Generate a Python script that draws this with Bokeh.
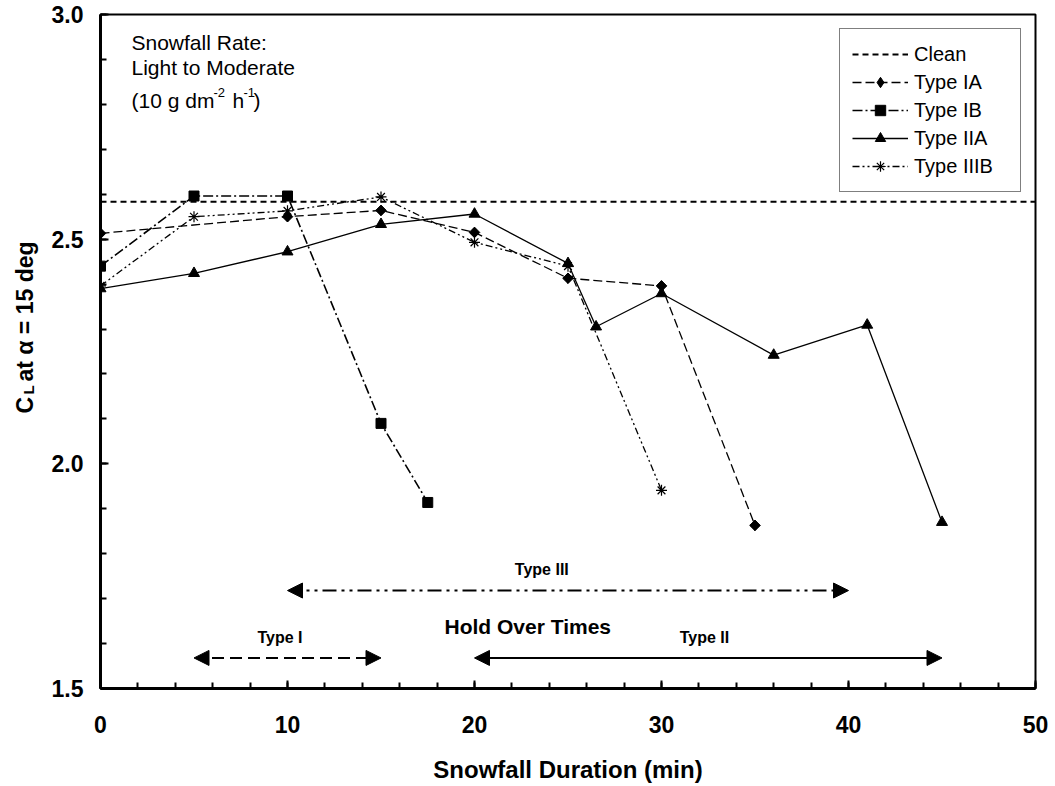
import math
from bokeh.plotting import figure
from bokeh.layouts import row
from bokeh.models import (Range1d, Label, Legend, LegendItem, Arrow, NormalHead,
                          NumeralTickFormatter, FixedTicker)
from bokeh.embed import file_html
from bokeh.resources import INLINE

# ---------------- data ----------------
x_min, x_max = 0, 50
y_min, y_max = 1.5, 3.0
x_ticks = [0, 10, 20, 30, 40, 50]
y_ticks = [1.5, 2.0, 2.5, 3.0]

clean_cl = 2.583

ia_t = [0, 10, 15, 20, 25, 30, 35]
ia_cl = [2.513, 2.550, 2.564, 2.515, 2.413, 2.396, 1.863]

ib_t = [0, 5, 10, 15, 17.5]
ib_cl = [2.440, 2.596, 2.596, 2.090, 1.914]

iia_t = [0, 5, 10, 15, 20, 25, 26.5, 30, 36, 41, 45]
iia_cl = [2.390, 2.424, 2.472, 2.533, 2.556, 2.446, 2.305, 2.379, 2.242, 2.309, 1.870]

iiib_t = [0, 5, 10, 15, 20, 25, 30]
iiib_cl = [2.396, 2.550, 2.563, 2.594, 2.493, 2.440, 1.941]

hot_types = ["Type I", "Type II", "Type III"]
hot_start = [5, 20, 10]
hot_end = [15, 45, 40]
hot_level = [1.568, 1.568, 1.718]

FONT = "Liberation Sans"
LEFT_W = 45
TOP_B, BOT_B = 14, 98

p = figure(width=1055 - LEFT_W, height=786,
           x_range=Range1d(x_min, x_max), y_range=Range1d(y_min, y_max),
           output_backend="svg", toolbar_location=None,
           min_border_left=100 - LEFT_W, min_border_right=20,
           min_border_top=TOP_B, min_border_bottom=BOT_B)

p.xgrid.visible = False
p.ygrid.visible = False
p.outline_line_color = "black"
p.outline_line_width = 2
p.background_fill_color = "white"
p.border_fill_color = "white"

# axes
p.xaxis.ticker = FixedTicker(ticks=x_ticks, minor_ticks=list(range(0, 51, 2)))
p.yaxis.ticker = FixedTicker(ticks=y_ticks, minor_ticks=[round(1.5 + 0.1 * i, 1) for i in range(16)])
p.yaxis.formatter = NumeralTickFormatter(format="0.0")
for ax in (p.xaxis, p.yaxis):
    ax.axis_line_width = 3
    ax.axis_line_color = "black"
    ax.major_tick_line_width = 2
    ax.minor_tick_line_width = 2
    ax.major_tick_line_color = "black"
    ax.minor_tick_line_color = "black"
    ax.major_tick_in = 8
    ax.major_tick_out = 0
    ax.minor_tick_in = 6
    ax.minor_tick_out = 0
    ax.major_label_text_font = FONT
    ax.major_label_text_font_style = "bold"
    ax.major_label_text_font_size = "23px"
    ax.major_label_text_color = "black"
p.xaxis.major_label_standoff = 27
p.yaxis.major_label_standoff = 17
p.xaxis.axis_label = "Snowfall Duration (min)"
p.xaxis.axis_label_text_font = FONT
p.xaxis.axis_label_text_font_style = "bold"
p.xaxis.axis_label_text_font_size = "24px"
p.xaxis.axis_label_text_color = "black"
p.xaxis.axis_label_standoff = 20

# ---------------- series ----------------
r_clean = p.line([x_min, x_max], [clean_cl, clean_cl], line_color="black",
                 line_width=2, line_dash="6 4")

l_ia = p.line(ia_t, ia_cl, line_color="black", line_width=1.3, line_dash="9 4")
# diamond symbol (used for the legend swatch) under a 45deg square for the data points
m_ia = p.scatter(ia_t, ia_cl, marker="diamond", size=10,
                 fill_color="black", line_color="black")
m_ia_sq = p.scatter(ia_t, ia_cl, marker="square", angle=math.pi / 4, size=7.5,
                    fill_color="black", line_color="black")

l_ib = p.line(ib_t, ib_cl, line_color="black", line_width=1.6, line_dash="10 3 2 3")
m_ib = p.scatter(ib_t, ib_cl, marker="square", size=10,
                 fill_color="black", line_color="black")

l_iia = p.line(iia_t, iia_cl, line_color="black", line_width=1.3)
m_iia = p.scatter(iia_t, iia_cl, marker="triangle", size=11,
                  fill_color="black", line_color="black")

l_iiib = p.line(iiib_t, iiib_cl, line_color="black", line_width=1.3, line_dash="7 3 2 3 2 3")
m_iiib = p.scatter(iiib_t, iiib_cl, marker="asterisk", size=11,
                   line_color="black", line_width=1.2)

legend = Legend(items=[
    LegendItem(label="Clean", renderers=[r_clean]),
    LegendItem(label="Type IA", renderers=[l_ia, m_ia]),
    LegendItem(label="Type IB", renderers=[l_ib, m_ib]),
    LegendItem(label="Type IIA", renderers=[l_iia, m_iia]),
    LegendItem(label="Type IIIB", renderers=[l_iiib, m_iiib]),
], location="top_right")
legend.margin = 14
legend.padding = 12
legend.spacing = 2
legend.label_height = 26
legend.glyph_height = 26
legend.glyph_width = 56
legend.label_width = 94
legend.label_standoff = 6
legend.label_text_font = FONT
legend.label_text_font_size = "20px"
legend.label_text_color = "black"
legend.border_line_color = "black"
legend.border_line_width = 1.5
legend.background_fill_color = "white"
legend.background_fill_alpha = 1.0
p.add_layout(legend)

# ---------------- hold over time arrows ----------------
arrow_dash = {"Type I": "12 6", "Type II": "solid", "Type III": "14 5 3 5 3 5"}
for name, s, e, lev in zip(hot_types, hot_start, hot_end, hot_level):
    p.add_layout(Arrow(x_start=s, y_start=lev, x_end=e, y_end=lev,
                       start=NormalHead(size=15, fill_color="black", line_color="black"),
                       end=NormalHead(size=15, fill_color="black", line_color="black"),
                       line_color="black", line_width=2, line_dash=arrow_dash[name]))

label_pos = {"Type I": (9.6, 1.614), "Type II": (32.3, 1.613), "Type III": (23.6, 1.765)}
for name in hot_types:
    lx, ly = label_pos[name]
    p.add_layout(Label(x=lx, y=ly, text=name, text_align="center", text_baseline="middle",
                       text_font=FONT, text_font_style="bold", text_font_size="16px",
                       text_color="black"))
p.add_layout(Label(x=22.85, y=1.638, text="Hold Over Times", text_align="center",
                   text_baseline="middle", text_font=FONT, text_font_style="bold",
                   text_font_size="21px", text_color="black"))

# ---------------- snowfall rate note (screen units, relative to frame) ----------------
def note(x, y, txt, size="21px"):
    p.add_layout(Label(x=x, y=y, x_units="screen", y_units="screen", text=txt,
                       text_align="left", text_baseline="alphabetic",
                       text_font=FONT, text_font_size=size, text_color="black"))

note(31, 646.5, "Snowfall Rate:")
note(31, 621.5, "Light to Moderate")
note(31, 588.5, "(10 g dm")
note(113, 596, "-2", "13px")
note(132, 588.5, "h")
note(143, 596, "-1", "13px")
note(153, 588.5, ")")

# ---------------- y axis label (separate narrow panel, with subscript) ----------------
# data coords of this panel: x = canvas x, y = 786 - canvas y
q = figure(width=LEFT_W, height=786, x_range=Range1d(0, LEFT_W),
           y_range=Range1d(BOT_B, 786 - TOP_B),
           output_backend="svg", toolbar_location=None,
           x_axis_type=None, y_axis_type=None,
           min_border_left=0, min_border_right=0,
           min_border_top=TOP_B, min_border_bottom=BOT_B)
q.xgrid.visible = False
q.ygrid.visible = False
q.outline_line_color = None
q.background_fill_color = "white"
q.border_fill_color = "white"

def ylab(x, y, txt, size):
    q.add_layout(Label(x=x, y=y, text=txt, angle=math.pi / 2,
                       text_align="left", text_baseline="alphabetic",
                       text_font=FONT, text_font_style="bold", text_font_size=size,
                       text_color="black"))

ylab(24, 786 - 413, "C", "23px")
ylab(28, 786 - 394, "L", "15px")
ylab(24, 786 - 381, "at \u03b1 = 15 deg", "23px")

layout = row(q, p)
open("out.html", "w").write(file_html(layout, INLINE))
